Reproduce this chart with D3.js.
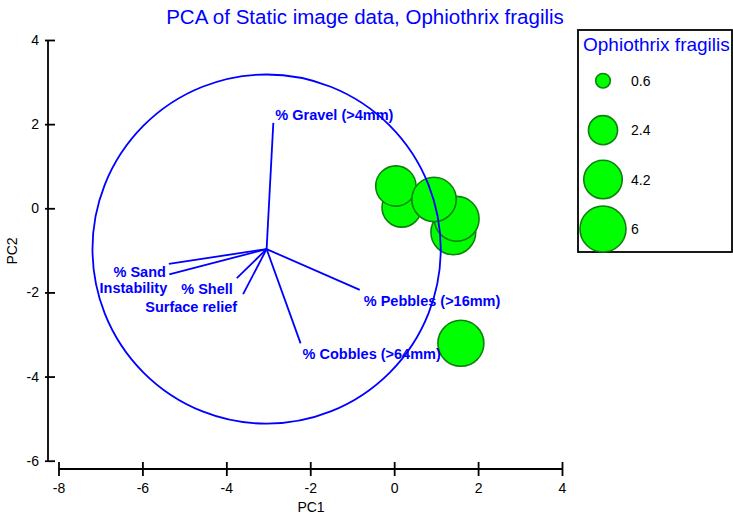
<!DOCTYPE html>
<html>
<head>
<meta charset="utf-8">
<script src="https://cdn.jsdelivr.net/npm/d3@7"></script>
<style>
  html, body { margin: 0; padding: 0; background: #fff; }
  svg { display: block; font-family: "Liberation Sans", Arial, sans-serif; }
</style>
</head>
<body>
<svg id="chart" width="733" height="517"></svg>
<script>
// ---- data ----
const title = "PCA of Static image data, Ophiothrix fragilis";
const legendTitle = "Ophiothrix fragilis";
const xTicks = [-8, -6, -4, -2, 0, 2, 4];
const yTicks = [-6, -4, -2, 0, 2, 4];
const xLabel = "PC1";
const yLabel = "PC2";

// samples (PC1, PC2, abundance) in drawing order
const samplePC1 = [0.18, 0.04, 1.41, 1.49, 0.95, 1.59];
const samplePC2 = [0.02, 0.53, -0.57, -0.25, 0.21, -3.21];
const sampleAbund = [4.4, 4.6, 5.7, 5.7, 5.6, 6.0];

// legend sizes
const legendValues = [0.6, 2.4, 4.2, 6];

// vectors (origin + endpoints) and the correlation circle
const vectorOrigin = [-3.04, -0.97];
const vectorNames = ["% Gravel (>4mm)", "% Sand", "Instability", "% Shell", "Surface relief", "% Pebbles (>16mm)", "% Cobbles (>64mm)"];
const vectorPC1 = [-2.88, -5.37, -5.36, -3.75, -3.60, -0.82, -2.23];
const vectorPC2 = [2.03, -1.32, -1.57, -1.66, -2.04, -1.94, -3.21];
const circleRadius = 4.15;

// ---- label placement (style) ----
const labelStyle = {
  "% Gravel (>4mm)": {anchor: "start", dx: 2, dy: -3},
  "% Sand": {anchor: "end", dx: -3, dy: 13.5},
  "Instability": {anchor: "end", dx: -2, dy: 18.5},
  "% Shell": {anchor: "end", dx: -4, dy: 16},
  "Surface relief": {anchor: "end", dx: -6, dy: 17.5},
  "% Pebbles (>16mm)": {anchor: "start", dx: 4, dy: 16},
  "% Cobbles (>64mm)": {anchor: "start", dx: 2, dy: 16}
};

const svg = d3.select("#chart");
const blue = "#0000ff";

const x = d3.scaleLinear().domain([-8, 4]).range([58.5, 562]);
const y = d3.scaleLinear().domain([-6, 4]).range([460.7, 40]);
const r = d3.scaleSqrt().domain([0, 6]).range([0, 23]);

// Title
svg.append("text")
  .attr("x", 365).attr("y", 24)
  .attr("text-anchor", "middle")
  .attr("font-size", 20.5)
  .attr("fill", blue)
  .text(title);

// Y axis
const yAxisX = 48;
const yAxis = d3.axisLeft(y).tickValues(yTicks).tickSize(3).tickPadding(6).tickFormat(d3.format("d"));
const gy = svg.append("g").attr("transform", `translate(${yAxisX},0)`).call(yAxis);
gy.select(".domain").remove();
gy.append("line").attr("x1", 0).attr("x2", 0).attr("y1", y(4)).attr("y2", y(-6))
  .attr("stroke", "#000").attr("stroke-width", 1.8);
gy.selectAll(".tick line").attr("x1", -3).attr("x2", 7).attr("stroke", "#000").attr("stroke-width", 1.8);
gy.selectAll(".tick text").attr("font-size", 14).attr("fill", "#000").attr("font-family", "Liberation Sans, Arial, sans-serif")
  .text(d => d < 0 ? "-" + Math.abs(d) : d);

// X axis
const xAxisY = 469;
const xAxis = d3.axisBottom(x).tickValues(xTicks).tickSize(7).tickPadding(7).tickFormat(d3.format("d"));
const gx = svg.append("g").attr("transform", `translate(0,${xAxisY})`).call(xAxis);
gx.select(".domain").remove();
gx.append("line").attr("x1", x(-8)).attr("x2", x(4)).attr("y1", 0).attr("y2", 0)
  .attr("stroke", "#000").attr("stroke-width", 1.8);
gx.selectAll(".tick line").attr("y1", -7).attr("y2", 7).attr("stroke", "#000").attr("stroke-width", 1.8);
gx.selectAll(".tick text").attr("font-size", 14).attr("fill", "#000").attr("font-family", "Liberation Sans, Arial, sans-serif")
  .text(d => d < 0 ? "-" + Math.abs(d) : d);

// Axis titles
svg.append("text").attr("x", 311).attr("y", 512).attr("text-anchor", "middle")
  .attr("font-size", 14).attr("fill", "#000").text(xLabel);
svg.append("text").attr("transform", `translate(17,251) rotate(-90)`).attr("text-anchor", "middle")
  .attr("font-size", 14).attr("fill", "#000").text(yLabel);

// Bubbles
const samples = samplePC1.map((v, i) => ({pc1: v, pc2: samplePC2[i], a: sampleAbund[i]}));
svg.append("g").selectAll("circle").data(samples).join("circle")
  .attr("cx", d => x(d.pc1)).attr("cy", d => y(d.pc2)).attr("r", d => r(d.a))
  .attr("fill", "#00ff00").attr("stroke", "#108010").attr("stroke-width", 1.6);

// Vectors
const vectors = vectorNames.map((n, i) => ({name: n, pc1: vectorPC1[i], pc2: vectorPC2[i]}));
const gv = svg.append("g");
gv.selectAll("line").data(vectors).join("line")
  .attr("x1", x(vectorOrigin[0])).attr("y1", y(vectorOrigin[1]))
  .attr("x2", d => x(d.pc1)).attr("y2", d => y(d.pc2))
  .attr("stroke", blue).attr("stroke-width", 1.8);

// Circle
svg.append("ellipse")
  .attr("cx", x(vectorOrigin[0])).attr("cy", y(vectorOrigin[1]))
  .attr("rx", x(circleRadius) - x(0)).attr("ry", y(0) - y(circleRadius))
  .attr("fill", "none").attr("stroke", blue).attr("stroke-width", 1.8);

// Vector labels
gv.selectAll("text").data(vectors).join("text")
  .attr("x", d => x(d.pc1) + labelStyle[d.name].dx)
  .attr("y", d => y(d.pc2) + labelStyle[d.name].dy)
  .attr("text-anchor", d => labelStyle[d.name].anchor)
  .attr("font-size", 14.5).attr("font-weight", "bold").attr("fill", blue)
  .text(d => d.name);

// Legend
const lg = svg.append("g");
lg.append("rect").attr("x", 578).attr("y", 30).attr("width", 154).attr("height", 222)
  .attr("fill", "#fff").attr("stroke", "#000").attr("stroke-width", 1.8);
lg.append("text").attr("x", 583).attr("y", 51).attr("font-size", 19).attr("fill", blue).text(legendTitle);
const ly = d3.scalePoint().domain(legendValues).range([80.7, 229]);
const items = lg.selectAll("g.item").data(legendValues).join("g").attr("class", "item");
items.append("circle").attr("cx", 603).attr("cy", d => ly(d)).attr("r", d => r(d))
  .attr("fill", "#00ff00").attr("stroke", "#108010").attr("stroke-width", 1.6);
items.append("text").attr("x", 631).attr("y", d => ly(d) + 5).attr("font-size", 14).attr("fill", "#000")
  .text(d => d);
</script>
</body>
</html>
